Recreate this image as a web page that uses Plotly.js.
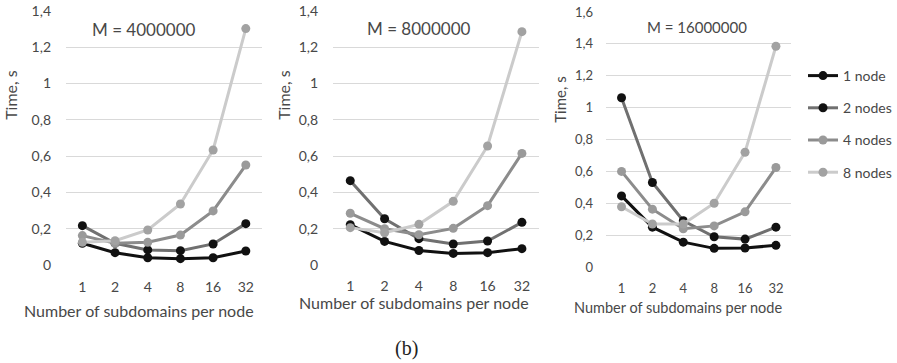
<!DOCTYPE html>
<html>
<head>
<meta charset="utf-8">
<script src="https://cdn.plot.ly/plotly-3.0.1.min.js"></script>
<style>
  html, body { margin: 0; padding: 0; background: #fff; }
  #chart { width: 897px; height: 363px; }
</style>
</head>
<body>
<div id="chart"></div>
<script>
// Subdomains per node (category axis)
const subdomains = ['1', '2', '4', '8', '16', '32'];
const seriesNames = ['1 node', '2 nodes', '4 nodes', '8 nodes'];

// Run time in seconds, M = 4000000
const timeM4_1node = [0.12, 0.068, 0.04, 0.035, 0.04, 0.077];
const timeM4_2nodes = [0.217, 0.12, 0.083, 0.079, 0.116, 0.228];
const timeM4_4nodes = [0.162, 0.12, 0.125, 0.165, 0.298, 0.551];
const timeM4_8nodes = [0.125, 0.134, 0.193, 0.336, 0.634, 1.303];

// Run time in seconds, M = 8000000
const timeM8_1node = [0.222, 0.13, 0.08, 0.064, 0.068, 0.09];
const timeM8_2nodes = [0.465, 0.255, 0.145, 0.116, 0.132, 0.235];
const timeM8_4nodes = [0.285, 0.2, 0.167, 0.202, 0.327, 0.615];
const timeM8_8nodes = [0.206, 0.178, 0.224, 0.351, 0.656, 1.286];

// Run time in seconds, M = 16000000
const timeM16_1node = [0.446, 0.25, 0.156, 0.117, 0.119, 0.136];
const timeM16_2nodes = [1.062, 0.53, 0.29, 0.19, 0.175, 0.25];
const timeM16_4nodes = [0.6, 0.363, 0.24, 0.258, 0.346, 0.624];
const timeM16_8nodes = [0.378, 0.27, 0.27, 0.4, 0.72, 1.385];

// Y tick labels
const yTicksA = [0, 0.2, 0.4, 0.6, 0.8, 1, 1.2, 1.4];
const yTickTextA = ['0', '0,2', '0,4', '0,6', '0,8', '1', '1,2', '1,4'];
const yTicksB = [0, 0.2, 0.4, 0.6, 0.8, 1, 1.2, 1.4, 1.6];
const yTickTextB = ['0', '0,2', '0,4', '0,6', '0,8', '1', '1,2', '1,4', '1,6'];

const panelTitles = ['M = 4000000', 'M = 8000000', 'M = 16000000'];
const xTitle = 'Number of subdomains per node';
const yTitle = 'Time, s';
const caption = '(b)';

const W = 897, H = 363;
const FONT = 'Lato, "Open Sans", sans-serif';
const TXT = '#484848';

// line colour, marker colour per series
const styles = [
  { line: '#111111', marker: '#111111' },
  { line: '#707070', marker: '#111111' },
  { line: '#8c8c8c', marker: '#9a9a9a' },
  { line: '#cbcbcb', marker: '#a2a2a2' }
];

const panels = [
  { data: [timeM4_1node, timeM4_2nodes, timeM4_4nodes, timeM4_8nodes], xa: 'x', ya: 'y' },
  { data: [timeM8_1node, timeM8_2nodes, timeM8_4nodes, timeM8_8nodes], xa: 'x2', ya: 'y2' },
  { data: [timeM16_1node, timeM16_2nodes, timeM16_4nodes, timeM16_8nodes], xa: 'x3', ya: 'y3' }
];

const traces = [];
panels.forEach((p, pi) => {
  p.data.forEach((vals, si) => {
    traces.push({
      type: 'scatter',
      mode: 'lines+markers',
      x: subdomains,
      y: vals,
      xaxis: p.xa,
      yaxis: p.ya,
      name: seriesNames[si],
      legendgroup: 'g' + si,
      showlegend: pi === 2,
      line: { color: styles[si].line, width: 3 },
      marker: { color: styles[si].marker, size: 9 },
      cliponaxis: false,
      hoverinfo: 'x+y+name'
    });
  });
});

// pixel boxes of the three plot areas
const boxes = [
  { l: 67, r: 266, t: 11, b: 265 },
  { l: 338, r: 547, t: 11, b: 265 },
  { l: 615, r: 803, t: 12, b: 267 }
];
const dx = b => [b.l / W, b.r / W];
const dy = b => [(H - b.b) / H, (H - b.t) / H];

function xAxis(b, ya, standoff, fs) {
  return {
    type: 'category', domain: dx(b), range: [-0.5, 5.5], anchor: ya,
    showgrid: false, zeroline: false, showline: false, ticks: '',
    ticklabelstandoff: standoff,
    tickfont: { family: FONT, size: fs, color: TXT },
    fixedrange: true
  };
}
function yAxis(b, xa, top, tv, tt, standoff, fs) {
  return {
    domain: dy(b), range: [0, top], anchor: xa,
    tickvals: tv, ticktext: tt,
    showgrid: true, gridcolor: '#d9d9d9', gridwidth: 1,
    zeroline: false, showline: false, ticks: '',
    ticklabelstandoff: standoff,
    tickfont: { family: FONT, size: fs, color: TXT },
    fixedrange: true
  };
}

const ann = [];
const titlePos = [
  { mx: 146, my: 30, ms: 17, tx: 141, ty: 310, ts: 16, yx: 11, yy: 95, ys: 16 },
  { mx: 425, my: 28, ms: 17, tx: 420, ty: 302, ts: 16, yx: 288, yy: 95, ys: 16 },
  { mx: 707, my: 27, ms: 15, tx: 688, ty: 307, ts: 14.5, yx: 568, yy: 100, ys: 15 }
];
titlePos.forEach((t, i) => {
  ann.push({ text: panelTitles[i], x: t.mx / W, y: 1 - t.my / H,
    xref: 'paper', yref: 'paper', showarrow: false, xanchor: 'center', yanchor: 'middle',
    font: { family: FONT, size: t.ms, color: TXT } });
  ann.push({ text: xTitle, x: t.tx / W, y: 1 - t.ty / H,
    xref: 'paper', yref: 'paper', showarrow: false, xanchor: 'center', yanchor: 'middle',
    font: { family: FONT, size: t.ts, color: TXT } });
  ann.push({ text: yTitle, x: t.yx / W, y: 1 - t.yy / H, textangle: -90,
    xref: 'paper', yref: 'paper', showarrow: false, xanchor: 'center', yanchor: 'middle',
    font: { family: FONT, size: t.ys, color: TXT } });
});
ann.push({ text: caption, x: 412 / W, y: 1 - 348 / H, xref: 'paper', yref: 'paper',
  showarrow: false, xanchor: 'center', yanchor: 'middle',
  font: { family: '"Liberation Serif", "DejaVu Serif", serif', size: 20, color: '#222' } });

const layout = {
  width: W, height: H,
  margin: { l: 0, r: 0, t: 0, b: 0 },
  paper_bgcolor: '#ffffff', plot_bgcolor: '#ffffff',
  separators: ', ',
  showlegend: true,
  legend: {
    x: 815 / W, y: 1 - 60 / H, xanchor: 'left', yanchor: 'top',
    font: { family: FONT, size: 14, color: TXT },
    tracegroupgap: 11, itemwidth: 30,
    bgcolor: 'rgba(0,0,0,0)'
  },
  xaxis: xAxis(boxes[0], 'y', 12, 14),
  yaxis: yAxis(boxes[0], 'x', 1.4, yTicksA, yTickTextA, 14, 14),
  xaxis2: xAxis(boxes[1], 'y2', 11, 14),
  yaxis2: yAxis(boxes[1], 'x2', 1.4, yTicksA, yTickTextA, 14, 14),
  xaxis3: xAxis(boxes[2], 'y3', 12, 13),
  yaxis3: yAxis(boxes[2], 'x3', 1.6, yTicksB, yTickTextB, 12, 13),
  annotations: ann
};

Plotly.newPlot('chart', traces, layout, { displayModeBar: false, staticPlot: true });
</script>
</body>
</html>
